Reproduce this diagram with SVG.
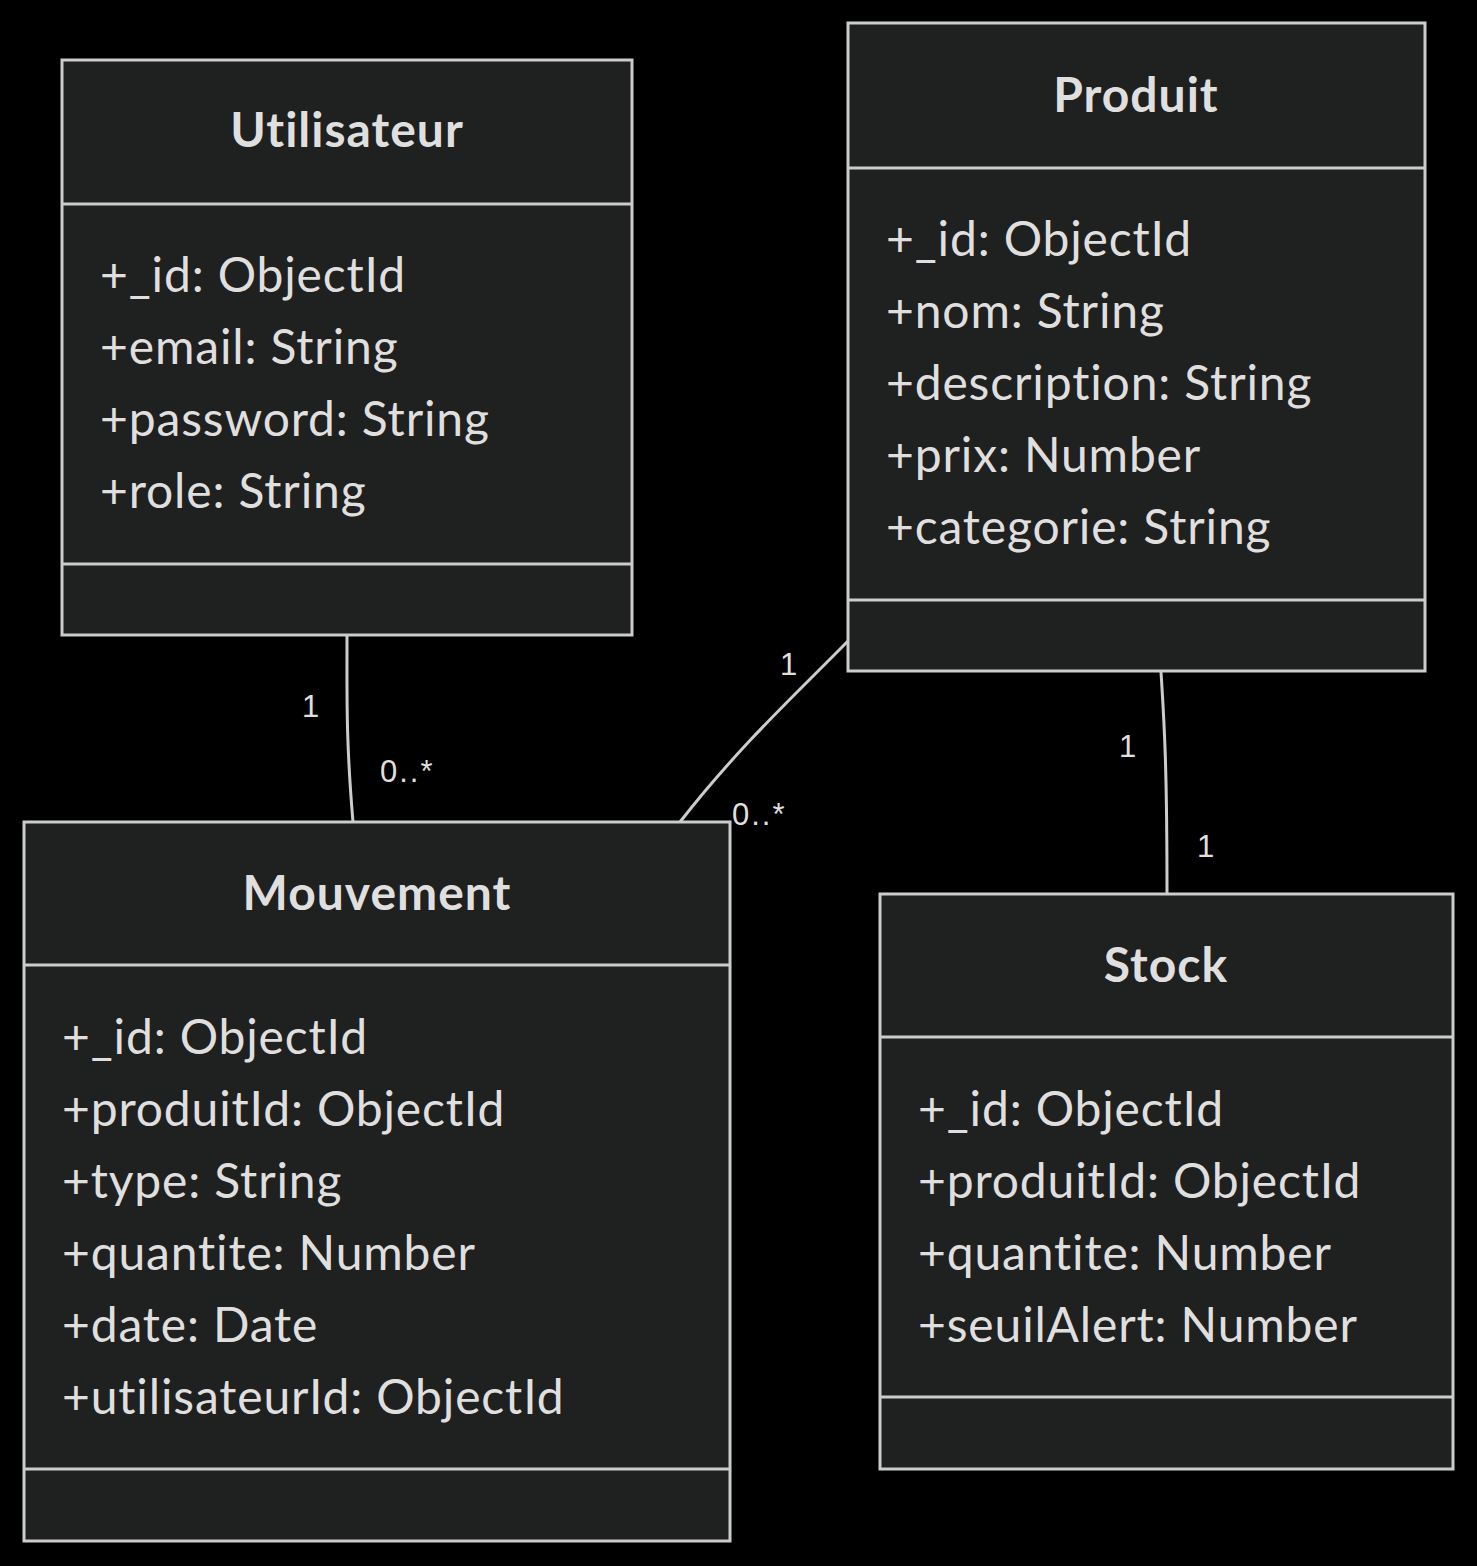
<svg xmlns="http://www.w3.org/2000/svg" width="1477" height="1566" viewBox="0 0 1477 1566">
<style>
.box{fill:#1f2020;stroke:#cccccc;stroke-width:3}
.div{stroke:#cccccc;stroke-width:3}
.title{font-family:Lato,"Open Sans","DejaVu Sans",sans-serif;font-weight:bold;font-size:48px;letter-spacing:1px;fill:#e0dfdf;text-anchor:middle}
.attr{font-family:Lato,"Open Sans","DejaVu Sans",sans-serif;font-size:48px;letter-spacing:0.85px;fill:#e0dfdf}
.edge{fill:none;stroke:#cccccc;stroke-width:3}
.lbl{font-family:"Liberation Sans",Arial,sans-serif;font-size:31px;letter-spacing:2px;fill:#e0dfdf}
</style>
<rect width="1477" height="1566" fill="#000000"/>
<g id="connectors">
<path class="edge" d="M347,636 C347,700 346,740 353,822"/>
<path class="edge" d="M848,641 C800,690 740,745 680,822"/>
<path class="edge" d="M1161,672 C1164,720 1167,760 1167,894"/>
</g>
<g id="labels">
<text class="lbl" x="302" y="717">1</text>
<text class="lbl" x="380" y="782">0..*</text>
<text class="lbl" x="780" y="675">1</text>
<text class="lbl" x="732" y="825">0..*</text>
<text class="lbl" x="1119" y="757">1</text>
<text class="lbl" x="1197" y="857">1</text>
</g>
<g id="Utilisateur">
<rect class="box" x="62" y="60" width="570" height="575"/>
<line class="div" x1="62" y1="204" x2="632" y2="204"/>
<line class="div" x1="62" y1="564" x2="632" y2="564"/>
<text class="title" x="347" y="147">Utilisateur</text>
<text class="attr" x="100" y="292">+_id: ObjectId</text>
<text class="attr" x="100" y="364">+email: String</text>
<text class="attr" x="100" y="436">+password: String</text>
<text class="attr" x="100" y="508">+role: String</text>
</g>
<g id="Produit">
<rect class="box" x="848" y="23" width="577" height="648"/>
<line class="div" x1="848" y1="168" x2="1425" y2="168"/>
<line class="div" x1="848" y1="600" x2="1425" y2="600"/>
<text class="title" x="1136" y="112">Produit</text>
<text class="attr" x="886" y="256">+_id: ObjectId</text>
<text class="attr" x="886" y="328">+nom: String</text>
<text class="attr" x="886" y="400">+description: String</text>
<text class="attr" x="886" y="472">+prix: Number</text>
<text class="attr" x="886" y="544">+categorie: String</text>
</g>
<g id="Mouvement">
<rect class="box" x="24" y="822" width="706" height="719"/>
<line class="div" x1="24" y1="965" x2="730" y2="965"/>
<line class="div" x1="24" y1="1469" x2="730" y2="1469"/>
<text class="title" x="377" y="910">Mouvement</text>
<text class="attr" x="62" y="1054">+_id: ObjectId</text>
<text class="attr" x="62" y="1126">+produitId: ObjectId</text>
<text class="attr" x="62" y="1198">+type: String</text>
<text class="attr" x="62" y="1270">+quantite: Number</text>
<text class="attr" x="62" y="1342">+date: Date</text>
<text class="attr" x="62" y="1414">+utilisateurId: ObjectId</text>
</g>
<g id="Stock">
<rect class="box" x="880" y="894" width="573" height="575"/>
<line class="div" x1="880" y1="1037" x2="1453" y2="1037"/>
<line class="div" x1="880" y1="1397" x2="1453" y2="1397"/>
<text class="title" x="1166" y="982">Stock</text>
<text class="attr" x="918" y="1126">+_id: ObjectId</text>
<text class="attr" x="918" y="1198">+produitId: ObjectId</text>
<text class="attr" x="918" y="1270">+quantite: Number</text>
<text class="attr" x="918" y="1342">+seuilAlert: Number</text>
</g>
</svg>
